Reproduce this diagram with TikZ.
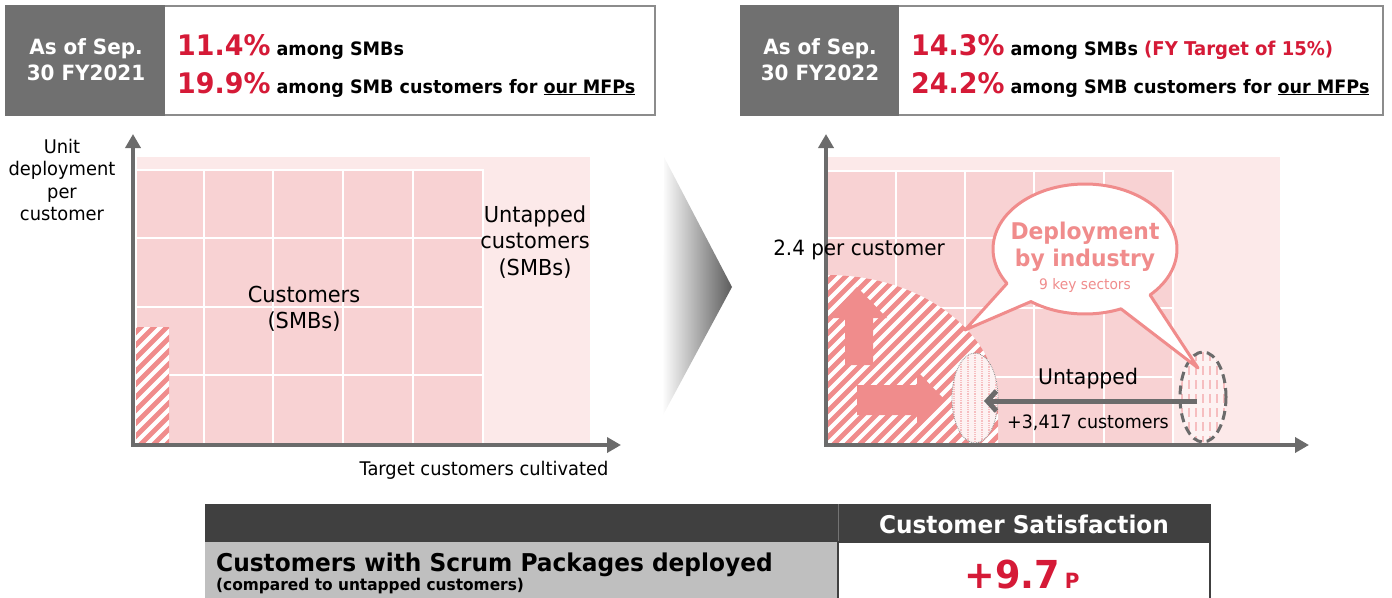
\documentclass[tikz,border=0pt]{standalone}
\usepackage{fontspec}
\setmainfont{DejaVu Sans}[FakeStretch=0.95]
\usetikzlibrary{arrows.meta,shapes.geometric,calc}

\definecolor{crimson}{RGB}{213,26,55}
\definecolor{salmon}{RGB}{240,140,140}
\definecolor{gridpink}{RGB}{248,210,211}
\definecolor{palepink}{RGB}{252,233,233}
\definecolor{stripepink}{RGB}{246,190,192}
\definecolor{cellgray}{RGB}{112,112,112}
\definecolor{axisgray}{RGB}{107,107,107}
\definecolor{framegray}{RGB}{140,140,140}
\definecolor{headdark}{RGB}{64,64,64}
\definecolor{rowgray}{RGB}{191,191,191}

\newcommand{\fsz}[2]{\fontsize{#1}{#2}\selectfont}
\newcommand{\pct}[1]{{\color{crimson}\fsz{28.3}{32}#1}}

\tikzset{
  axisline/.style={draw=axisgray, line width=4pt, line join=miter,
    {Triangle[length=14pt,width=15pt]}-{Triangle[length=14pt,width=15pt]}},
  gridline/.style={white, line width=2pt},
  hatchline/.style={salmon, line width=4.8pt},
  datelbl/.style={text=white, font=\bfseries\fsz{21}{26}, align=center, inner sep=0pt},
  headline/.style={anchor=base west, inner sep=0pt, font=\bfseries\fsz{18.5}{22}},
  chartlbl/.style={inner sep=0pt, align=center},
  vstripes/.style={path picture={
      \fill[palepink!60] (path picture bounding box.south west) rectangle (path picture bounding box.north east);
      \foreach \k in {-28,-21,...,28}
        \draw[stripepink, line width=1.4pt]
          ([xshift=\k pt]path picture bounding box.north) --
          ([xshift=\k pt]path picture bounding box.south);}},
  blockarrow/.style={fill=salmon, draw=none},
}

\begin{document}
\begin{tikzpicture}[x=1pt,y=-1pt]
\useasboundingbox (0,0) rectangle (1392,597);
\clip (0,0) rectangle (1392,597);

% ---------- header boxes ----------
\draw[framegray, line width=2pt, fill=white] (6,6) rectangle (655,115);
\fill[cellgray] (5,5) rectangle (165,116);
\node[datelbl] (date1) at (86,60) {As of Sep.\\30 FY2021};
\node[headline] (rate1a) at (177,55) {\pct{11.4\%} among SMBs};
\node[headline] (rate1b) at (177,93) {\pct{19.9\%} among SMB customers for \underline{our MFPs}};

\draw[framegray, line width=2pt, fill=white] (741,6) rectangle (1383,115);
\fill[cellgray] (740,5) rectangle (899,116);
\node[datelbl] (date2) at (820,60) {As of Sep.\\30 FY2022};
\node[headline] (rate2a) at (911,55) {\pct{14.3\%} among SMBs {\color{crimson}\fsz{19}{22}(FY Target of 15\%)}};
\node[headline] (rate2b) at (911,93) {\pct{24.2\%} among SMB customers for \underline{our MFPs}};

% ---------- left chart ----------
\fill[palepink] (137,157) rectangle (590,443);
\fill[gridpink] (137,170) rectangle (483,443);
\foreach \gx in {204,273,343,413}
  \draw[gridline] (\gx,170) -- (\gx,443);
\foreach \gy in {238,307,375}
  \draw[gridline] (137,\gy) -- (483,\gy);
\draw[gridline] (137,170) -- (483,170) -- (483,443);

\begin{scope}
  \clip (136,327) rectangle (169,443);
  \fill[white] (136,327) rectangle (169,443);
  \foreach \s in {-200,-187,...,190}
    \draw[hatchline] (\s,460) -- (\s+330,130);
\end{scope}

\coordinate (ltop) at (133,134);
\coordinate (lorg) at (133,445);
\coordinate (lend) at (621,445);
\draw[axisline] (ltop) -- (lorg) -- (lend);

\node[chartlbl, font=\fsz{18.8}{22.3}] (ylbl) at (62,180) {Unit\\deployment\\per\\customer};
\node[chartlbl, font=\fsz{22}{26.5}] (untap1) at (535,242) {Untapped\\customers\\(SMBs)};
\node[chartlbl, font=\fsz{22}{26}] (cust1) at (304,309) {Customers\\(SMBs)};
\node[chartlbl, font=\fsz{18.8}{22}] (xlbl) at (484,470) {Target customers cultivated};

% ---------- transition chevron ----------
\shade[left color=white, middle color=black!18, right color=black!64]
  (664,157) -- (732,287) -- (662,417) -- cycle;

% ---------- right chart ----------
\fill[palepink] (828,157) rectangle (1280,443);
\fill[gridpink] (828,171) rectangle (1173,443);
\foreach \gx in {896,965,1034,1104}
  \draw[gridline] (\gx,171) -- (\gx,443);
\foreach \gy in {238,308,377}
  \draw[gridline] (828,\gy) -- (1173,\gy);
\draw[gridline] (828,171) -- (1173,171) -- (1173,443);

\begin{scope}
  \clip (827,275) .. controls (930,275) and (998,340) .. (998,400) -- (998,443) -- (827,443) -- cycle;
  \fill[white] (820,260) rectangle (1000,445);
  \foreach \s in {480,493,...,1010}
    \draw[hatchline] (\s,460) -- (\s+330,130);
\end{scope}

% growth arrows
\fill[blockarrow] (845,365) -- (845,318) -- (828,318) -- (857,287) -- (887,318) -- (873,318) -- (873,365) -- cycle;
\fill[blockarrow] (857,385) -- (917,385) -- (917,371) -- (945,400) -- (917,429) -- (917,415) -- (857,415) -- cycle;

% untapped customer groups
\node[ellipse, minimum width=46pt, minimum height=90pt, inner sep=0pt, fill=white,
      draw=axisgray!80, densely dotted, line width=0.8pt, vstripes] (lell) at (975,398) {};
\node[ellipse, minimum width=46pt, minimum height=90pt, inner sep=0pt, fill=white,
      draw=axisgray, dash pattern=on 9pt off 5pt, line width=3pt, vstripes] (rell) at (1203,397) {};
\draw[axisgray, line width=5pt, -{Straight Barb[length=9pt,width=20pt]}]
  ($(rell.center)+(-6,4)$) -- ($(lell.center)+(9,3)$);

\coordinate (rtop) at (826,134);
\coordinate (rorg) at (826,445);
\coordinate (rend) at (1309,445);
\draw[axisline] (rtop) -- (rorg) -- (rend);

% speech bubble
\draw[salmon, line width=3pt, fill=white, line join=round]
  ({1085+92*cos(148)},{249+65*sin(148)}) -- (965,330) -- ({1085+92*cos(126)},{249+65*sin(126)})
  -- plot[domain=126:67, samples=30] ({1085+92*cos(\x)},{249+65*sin(\x)})
  -- (1198,368)
  -- plot[domain=45:-212, samples=90] ({1085+92*cos(\x)},{249+65*sin(\x)}) -- cycle;
\node[chartlbl, text=salmon, font=\bfseries\fsz{23}{27}] (dep) at (1085,233) {Deployment};
\node[chartlbl, text=salmon, font=\bfseries\fsz{23}{27}] (ind) at (1085,260) {by industry};
\node[chartlbl, text=salmon, font=\fsz{14.5}{17}] (sect) at (1085,285) {9 key sectors};

\node[chartlbl, font=\fsz{21}{25}] (perc) at (859,250) {2.4 per customer};
\node[chartlbl, font=\fsz{21.5}{25}] (untap2) at (1088,379) {Untapped};
\node[chartlbl, font=\fsz{18.4}{22}] (plus) at (1088,423) {+3,417 customers};

% ---------- result table ----------
\fill[headdark] (205,504) rectangle (1211,542);
\draw[black!55, line width=1pt] (838,504) -- (838,542);
\fill[rowgray] (205,542) rectangle (838,600);
\draw[headdark, line width=1.5pt, fill=white] (838,542) rectangle (1210,602);
\node[chartlbl, text=white, font=\bfseries\fsz{24.4}{28}] (csat) at (1024,524) {Customer Satisfaction};
\node[anchor=base west, inner sep=0pt, font=\bfseries\fsz{24.5}{28}] (scrum) at (216,571) {Customers with Scrum Packages deployed};
\node[anchor=base west, inner sep=0pt, font=\bfseries\fsz{16.2}{19}] (cmp) at (216,590) {(compared to untapped customers)};
\node[anchor=base, inner sep=0pt, text=crimson, font=\bfseries] (gain) at (1022,588)
  {{\fsz{38.5}{40}+9.7}\hspace{5pt}{\fsz{21}{24}P}};
\end{tikzpicture}
\end{document}
